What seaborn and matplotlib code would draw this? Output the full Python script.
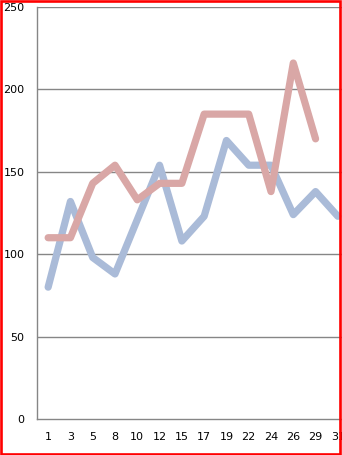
import matplotlib
matplotlib.use("Agg")
import matplotlib.pyplot as plt
import seaborn as sns
import numpy as np
import pandas as pd
from matplotlib.patches import Rectangle

categories = ["1", "3", "5", "8", "10", "12", "15", "17", "19", "22", "24", "26", "29", "31"]
blue_values = [80, 132, 98, 88, 121, 154, 108, 123, 169, 154, 154, 124, 138, 123]
pink_values = [110, 110, 143, 154, 133, 143, 143, 185, 185, 185, 138, 216, 170, np.nan]
y_ticks = [0, 50, 100, 150, 200, 250]

sns.set_theme(style="white")
plt.rcParams['font.family'] = ['DejaVu Sans']

W, H = 342, 455
fig = plt.figure(figsize=(W / 100, H / 100), dpi=100)
fig.patch.set_facecolor("white")
ax = fig.add_axes([37 / W, 36 / H, 312 / W, 412 / H])

df = pd.DataFrame({
    "pos": list(range(len(categories))) * 2,
    "value": blue_values + pink_values,
    "series": ["blue"] * len(categories) + ["pink"] * len(categories),
})

grid_col = "#868686"
for t in y_ticks[1:]:
    ax.axhline(t, color=grid_col, lw=1.0, zorder=1)

sns.lineplot(data=df, x="pos", y="value", hue="series",
             palette={"blue": "#aabbd8", "pink": "#d9a7a6"},
             linewidth=5.2, legend=False, ax=ax, zorder=3,
             estimator=None, sort=False)
for ln in ax.get_lines():
    ln.set_solid_capstyle("round")
    ln.set_solid_joinstyle("round")

ax.set_xlim(-0.5, len(categories) - 0.5)
ax.set_ylim(0, 250)
ax.set_xticks(range(len(categories)))
ax.set_xticklabels(categories)
ax.set_yticks(y_ticks)
ax.set_xlabel("")
ax.set_ylabel("")
ax.tick_params(axis="both", length=0, labelsize=8, colors="black")
ax.tick_params(axis="y", pad=9)
ax.tick_params(axis="x", pad=9)
for s in ["top", "right"]:
    ax.spines[s].set_visible(False)
for s in ["left", "bottom"]:
    ax.spines[s].set_visible(True)
    ax.spines[s].set_color(grid_col)
    ax.spines[s].set_linewidth(1.0)
ax.set_facecolor("white")

border = Rectangle((1.2 / W, 1.5 / H), 339 / W, 452.5 / H,
                   transform=fig.transFigure, fill=False,
                   edgecolor="#ff0000", linewidth=1.9, zorder=10)
fig.add_artist(border)

fig.savefig("out.png", dpi=100)
